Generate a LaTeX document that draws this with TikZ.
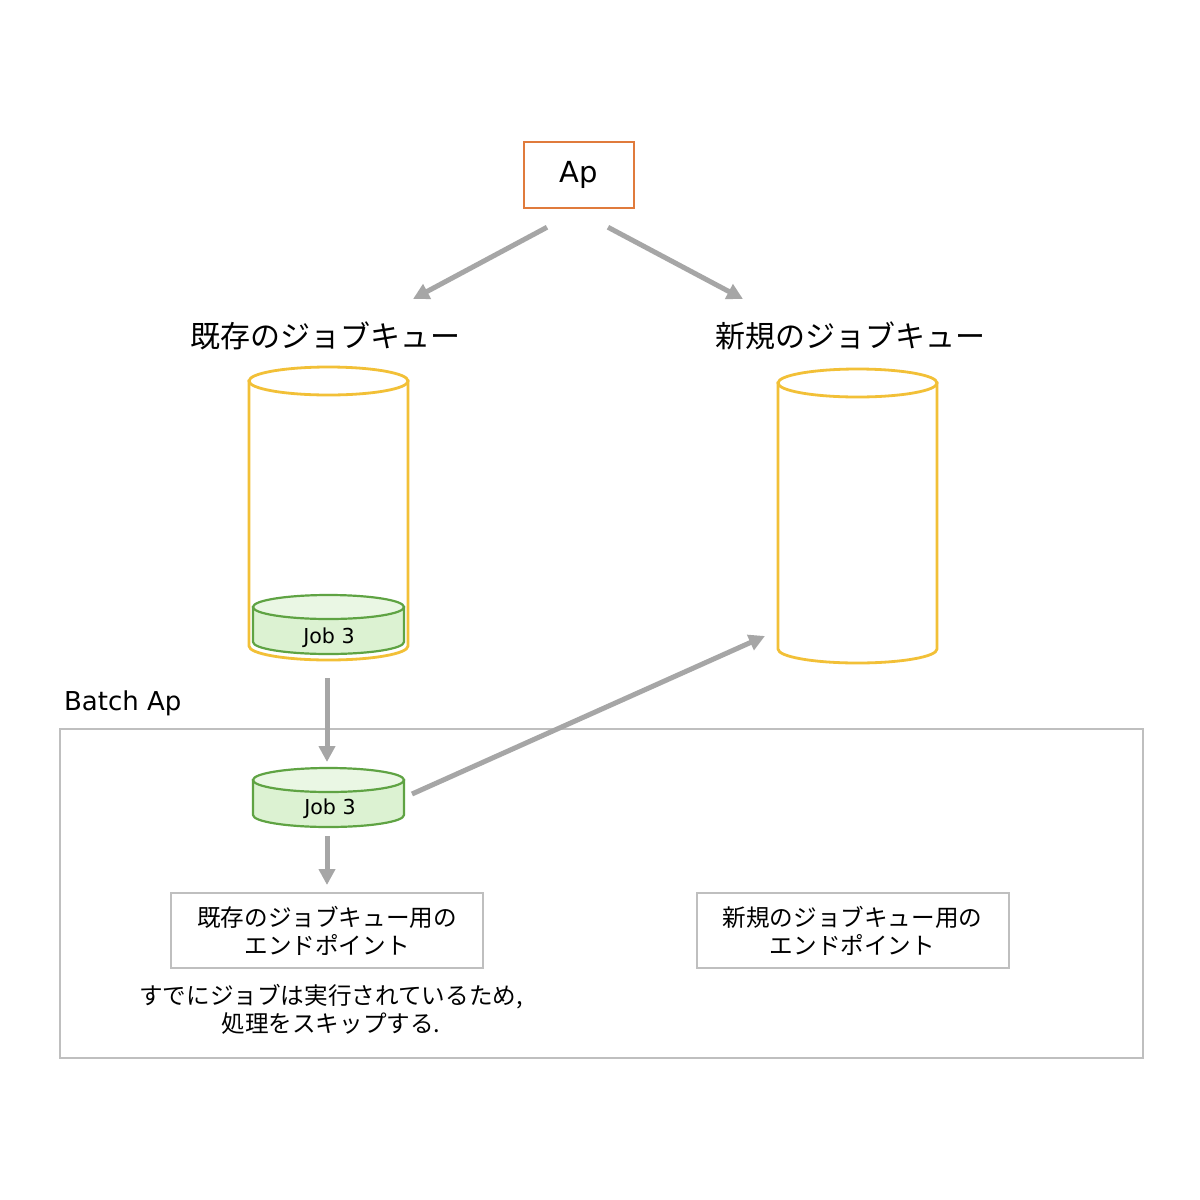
\documentclass[tikz,border=0pt]{standalone}
\usepackage{fontspec}
\setmainfont{DejaVu Sans}
\newfontfamily\jp{Noto Sans CJK JP}
\usetikzlibrary{arrows.meta}

\definecolor{apedge}{HTML}{E07B3C}
\definecolor{qedge}{HTML}{F2C037}
\definecolor{jobedge}{HTML}{5FA343}
\definecolor{jobfill}{HTML}{DCF2D2}
\definecolor{jobtop}{HTML}{EAF7E4}
\definecolor{flowgray}{HTML}{A6A6A6}
\definecolor{boxgray}{HTML}{BFBFBF}

% cylinder: cx, top y, bottom y, half width, y radius, style, top fill
\newcommand{\drum}[7]{%
  \filldraw[#6] (#1-#4,#2) -- (#1-#4,#3) arc[start angle=180,end angle=0,x radius=#4,y radius=#5] -- (#1+#4,#2) -- cycle;
  \filldraw[#6,fill=#7] (#1,#2) ellipse[x radius=#4,y radius=#5];
}

\begin{document}
\begin{tikzpicture}[x=0.5pt,y=-0.5pt,
    flow/.style={draw=flowgray, line width=2.5pt, -{Triangle[length=8pt,width=8pt]}},
    ghost/.style={inner sep=0pt, outer sep=0pt},
    endpoint/.style={draw=boxgray, line width=1pt, minimum width=156pt, minimum height=37.5pt,
      align=center, font=\jp\fontsize{11.8}{14}\selectfont},
    qline/.style={draw=qedge, line width=1.4pt, fill=white},
    jobline/.style={draw=jobedge, line width=1.1pt, fill=jobfill}]
  \fill[white] (0,0) rectangle (1200,1200);
  \useasboundingbox (0,0) rectangle (1200,1200);

  \node[draw=apedge, line width=1.25pt, minimum width=55pt, minimum height=33pt,
    font=\fontsize{14.5}{17}\selectfont] (ap) at (579,175) {Ap};

  \node[font=\jp\fontsize{15}{18}\selectfont] (oldlbl) at (325,336) {既存のジョブキュー};
  \node[font=\jp\fontsize{15}{18}\selectfont] (newlbl) at (850,336) {新規のジョブキュー};

  % queues
  \drum{328.5}{381}{646}{79.5}{14}{qline}{white}
  \drum{857.5}{383}{649}{79.5}{14}{qline}{white}
  \node[ghost, minimum width=79.5pt, minimum height=146.5pt] (oldq) at (328.5,513.5) {};
  \node[ghost, minimum width=79.5pt, minimum height=147pt] (newq) at (857.5,516) {};

  % job in queue
  \drum{328.5}{607}{642}{75.5}{12}{jobline}{jobtop}
  \node[font=\fontsize{10.3}{12}\selectfont] (job) at (329,638) {Job 3};

  % batch
  \node[draw=boxgray, line width=1pt, minimum width=541.5pt, minimum height=164.5pt] (batch) at (601.5,893.5) {};
  \node[anchor=west, font=\fontsize{13}{15}\selectfont] (batchlbl) at (57,703) {Batch Ap};

  \drum{328.5}{780}{815}{75.5}{12}{jobline}{jobtop}
  \node[ghost, minimum width=75.5pt, minimum height=29.5pt] (jobb) at (328.5,797.5) {};
  \node[font=\fontsize{10.3}{12}\selectfont] (jobtxt) at (330,809) {Job 3};

  \node[endpoint] (oldep) at (327,930.5) {既存のジョブキュー用の\\エンドポイント};
  \node[endpoint] (newep) at (852.5,930.5) {新規のジョブキュー用の\\エンドポイント};
  \node[align=center, font=\jp\fontsize{11.8}{14}\selectfont] (note) at (331,1009)
    {すでにジョブは実行されているため,\\処理をスキップする.};

  % arrows
  \draw[flow] ([xshift=-16pt,yshift=-9pt]ap.south) -- ([xshift=44pt,yshift=18.5pt]oldlbl.center);
  \draw[flow] ([xshift=14.5pt,yshift=-9pt]ap.south) -- ([xshift=-53.5pt,yshift=18.5pt]newlbl.center);
  \draw[flow] ([xshift=-0.75pt,yshift=-9pt]oldq.south) -- ([xshift=-0.75pt,yshift=3pt]jobb.north);
  \draw[flow] ([xshift=4pt,yshift=1.75pt]jobb.east) -- ([xshift=-6.5pt,yshift=13.5pt]newq.south west);
  \draw[flow] ([xshift=-0.75pt,yshift=-4.5pt]jobb.south) -- ([yshift=3.5pt]oldep.north);
\end{tikzpicture}
\end{document}
